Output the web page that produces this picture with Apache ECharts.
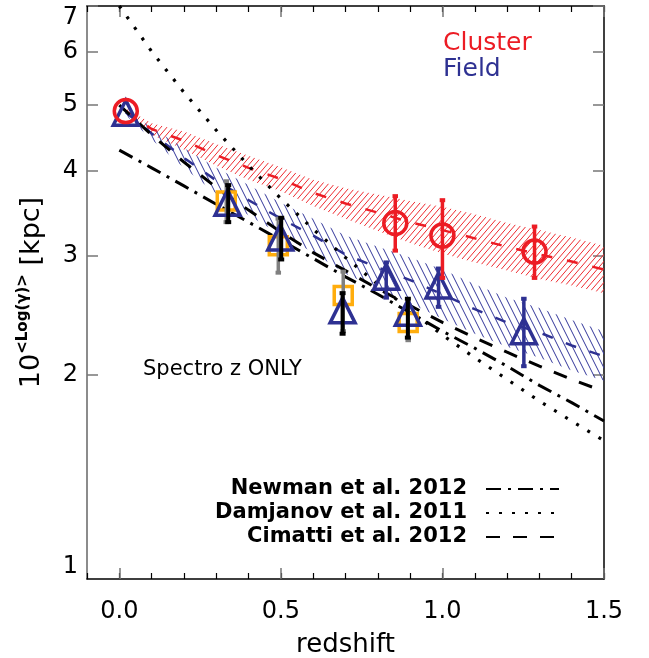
<!DOCTYPE html>
<html><head><meta charset="utf-8">
<script src="https://cdn.jsdelivr.net/npm/echarts@6/dist/echarts.min.js"></script>
<style>html,body{margin:0;padding:0;background:#fff}#c{width:649px;height:658px}</style>
</head><body><div id="c"></div>
<script>
// ---- tick labels ----
const xLabelValues = [0, 0.5, 1.0, 1.5];
const xMajorTicks = [0, 0.5, 1.0, 1.5];
const yLabelValues = [1, 2, 3, 4, 5, 6, 7];
const yMajorTicks = [2, 3, 4, 5, 6, 7];

// ---- literature relations ----
const modelZ = [0, 0.1, 0.2, 0.3, 0.4, 0.5, 0.6, 0.7, 0.8, 0.9, 1.0, 1.1, 1.2, 1.3, 1.4, 1.5];
const newmanR = [4.29, 4.04, 3.80, 3.57, 3.36, 3.16, 2.97, 2.79, 2.63, 2.47, 2.32, 2.19, 2.06, 1.93, 1.82, 1.71];
const damjanovR = [7.00, 6.00, 5.22, 4.59, 4.07, 3.64, 3.28, 2.98, 2.72, 2.49, 2.29, 2.12, 1.97, 1.83, 1.71, 1.60];
const cimattiR = [5.00, 4.52, 4.12, 3.78, 3.50, 3.25, 3.03, 2.85, 2.68, 2.53, 2.39, 2.27, 2.16, 2.06, 1.97, 1.89];

// ---- fitted bands ----
const bandZ = [0.02, 0.1, 0.2, 0.3, 0.4, 0.5, 0.6, 0.7, 0.8, 0.9, 1.0, 1.1, 1.2, 1.3, 1.4, 1.5];
const clusterMid = [4.90, 4.61, 4.43, 4.22, 4.04, 3.89, 3.71, 3.58, 3.47, 3.36, 3.27, 3.18, 3.09, 3.01, 2.94, 2.86];
const clusterUp  = [4.95, 4.70, 4.57, 4.38, 4.21, 4.05, 3.88, 3.77, 3.69, 3.61, 3.54, 3.45, 3.35, 3.27, 3.19, 3.10];
const clusterLow = [4.85, 4.52, 4.30, 4.07, 3.88, 3.73, 3.55, 3.40, 3.26, 3.13, 3.02, 2.93, 2.85, 2.77, 2.71, 2.64];
const fieldMid = [4.88, 4.54, 4.18, 3.87, 3.62, 3.40, 3.21, 3.01, 2.88, 2.76, 2.63, 2.50, 2.39, 2.31, 2.21, 2.13];
const fieldUp  = [4.93, 4.63, 4.32, 4.04, 3.81, 3.59, 3.40, 3.21, 3.09, 2.98, 2.86, 2.72, 2.60, 2.51, 2.41, 2.32];
const fieldLow = [4.83, 4.45, 4.04, 3.70, 3.44, 3.22, 3.03, 2.82, 2.68, 2.55, 2.42, 2.30, 2.20, 2.12, 2.03, 1.96];

// ---- data points ----
const clusterZ = [0.02, 0.854, 1.00, 1.285];
const clusterR = [4.90, 3.35, 3.21, 3.04];
const clusterErrZ = [0.854, 1.00, 1.285];
const clusterErrLo = [3.05, 2.78, 2.78];
const clusterErrHi = [3.67, 3.62, 3.31];

const fieldZ = [0.02, 0.335, 0.498, 0.691, 0.826, 0.893, 0.988, 1.252];
const fieldR = [4.87, 3.59, 3.19, 2.49, 2.79, 2.47, 2.71, 2.32];
const fieldErrZ = [0.826, 0.988, 1.252];
const fieldErrLo = [2.60, 2.52, 2.06];
const fieldErrHi = [2.93, 2.87, 2.59];

const specErrZ = [0.337, 0.501, 0.691, 0.893];
const specErrLo = [3.36, 2.96, 2.30, 2.27];
const specErrHi = [3.81, 3.41, 2.64, 2.59];

const squareZ = [0.331, 0.492, 0.693, 0.894];
const squareR = [3.61, 3.10, 2.62, 2.39];
const squareErrLo = [3.36, 2.83, 2.32, 2.25];
const squareErrHi = [3.86, 3.40, 2.84, 2.55];

const RED = '#EC1C24', BLUE = '#2E3192', ORANGE = '#FFAD0D', GRAY = '#808080';
const FONT = 'DejaVu Sans';

function hatch(color, w, h, dir, lw) {
  const c = document.createElement('canvas');
  c.width = w; c.height = h;
  const g = c.getContext('2d');
  g.strokeStyle = color; g.lineWidth = lw;
  g.beginPath();
  for (let k = -1; k <= 1; k++) {
    if (dir > 0) { g.moveTo(k * w, h); g.lineTo(k * w + w, 0); }
    else { g.moveTo(k * w, 0); g.lineTo(k * w + w, h); }
  }
  g.stroke();
  return c;
}
const redHatch = hatch('#EE2A30', 6, 7, 1, 1);
const blueHatch = hatch('#33379A', 7, 14, -1, 1);

function bandSeries(name, lo, hi, pattern) {
  return {
    name: name, type: 'custom', z: 1, silent: true, clip: true,
    data: bandZ.map((z, i) => [z, lo[i], hi[i]]),
    encode: { x: 0, y: [1, 2] },
    renderItem: function (params, api) {
      if (params.dataIndex !== 0) return null;
      const pts = [];
      for (let i = 0; i < bandZ.length; i++) pts.push(api.coord([bandZ[i], hi[i]]));
      for (let i = bandZ.length - 1; i >= 0; i--) pts.push(api.coord([bandZ[i], lo[i]]));
      return { type: 'polygon', shape: { points: pts }, style: { fill: { image: pattern, repeat: 'repeat' }, stroke: null } };
    }
  };
}

function errSeries(name, zs, lo, hi, color, w, z) {
  return {
    name: name, type: 'custom', z: z, silent: true,
    data: zs.map((v, i) => [v, lo[i], hi[i]]),
    encode: { x: 0, y: [1, 2] },
    renderItem: function (params, api) {
      const p1 = api.coord([api.value(0), api.value(1)]);
      const p2 = api.coord([api.value(0), api.value(2)]);
      return { type: 'group', children: [
        { type: 'line', shape: { x1: p1[0], y1: p1[1], x2: p2[0], y2: p2[1] }, style: { stroke: color, lineWidth: w } },
        { type: 'rect', shape: { x: p1[0] - w / 2 - 1, y: p1[1] - 2, width: w + 2, height: 4 }, style: { fill: color } },
        { type: 'rect', shape: { x: p2[0] - w / 2 - 1, y: p2[1] - 2, width: w + 2, height: 4 }, style: { fill: color } }
      ] };
    }
  };
}

const chart = echarts.init(document.getElementById('c'), null, { renderer: 'canvas' });

const xBase = { type: 'value', min: -0.1, max: 1.5, splitLine: { show: false } };
const yBase = { type: 'log', logBase: 10, min: 1, max: 7, splitLine: { show: false } };

chart.setOption({
  animation: false,
  backgroundColor: '#fff',
  grid: { left: 87, right: 45, top: 6, bottom: 79, containLabel: false, outerBoundsMode: 'none' },
  xAxis: [
    Object.assign({}, xBase, {
      position: 'bottom', interval: 0.1,
      axisLine: { onZero: false, lineStyle: { color: '#000', width: 1.5 } },
      axisTick: { inside: true, length: 6, lineStyle: { color: '#000', width: 1.2 } },
      axisLabel: { customValues: xLabelValues, formatter: v => Number(v).toFixed(1), fontFamily: FONT, fontSize: 24, color: '#000', margin: 21 },
      name: 'redshift', nameLocation: 'middle', nameGap: 53,
      nameTextStyle: { fontFamily: FONT, fontSize: 26, color: '#000' }
    }),
    Object.assign({}, xBase, {
      position: 'bottom',
      axisLine: { show: false, onZero: false },
      axisTick: { customValues: xMajorTicks, inside: true, length: 11, lineStyle: { color: '#777', width: 1.5 } },
      axisLabel: { show: false }
    }),
    Object.assign({}, xBase, {
      position: 'top', interval: 0.1,
      axisLine: { onZero: false, lineStyle: { color: '#000', width: 1.5 } },
      axisTick: { inside: true, length: 6, lineStyle: { color: '#000', width: 1.2 } },
      axisLabel: { show: false }
    }),
    Object.assign({}, xBase, {
      position: 'top',
      axisLine: { show: false, onZero: false },
      axisTick: { customValues: xMajorTicks, inside: true, length: 11, lineStyle: { color: '#777', width: 1.5 } },
      axisLabel: { show: false }
    })
  ],
  yAxis: [
    Object.assign({}, yBase, {
      position: 'left',
      axisLine: { onZero: false, lineStyle: { color: '#666', width: 1.5 } },
      axisTick: { customValues: yMajorTicks, inside: true, length: 11, lineStyle: { color: '#777', width: 1.5 } },
      axisLabel: { customValues: yLabelValues, formatter: v => String(Math.round(v)), fontFamily: FONT, fontSize: 24, color: '#000', margin: 9,
                   verticalAlignMinLabel: 'bottom', verticalAlignMaxLabel: 'top' },
      name: '{a|10}{b|<Log(γ)>}{a| [kpc]}', nameLocation: 'middle', nameGap: 39,
      nameTextStyle: { rich: {
        a: { fontFamily: FONT, fontSize: 27, lineHeight: 32, color: '#000' },
        b: { fontFamily: FONT, fontWeight: 'bold', fontSize: 15, lineHeight: 17, verticalAlign: 'top', color: '#000' }
      } }
    }),
    Object.assign({}, yBase, {
      position: 'right',
      axisLine: { onZero: false, lineStyle: { color: '#000', width: 1.5 } },
      axisTick: { customValues: yMajorTicks, inside: true, length: 11, lineStyle: { color: '#777', width: 1.5 } },
      axisLabel: { show: false }
    })
  ],
  legend: {
    data: ['Newman et al. 2012', 'Damjanov et al. 2011', 'Cimatti et al. 2012'],
    orient: 'vertical', align: 'right', right: 84, top: 472,
    itemWidth: 73, itemHeight: 12, itemGap: 0, selectedMode: false,
    itemStyle: { opacity: 0 },
    textStyle: { fontFamily: FONT, fontWeight: 'bold', fontSize: 21, color: '#000', lineHeight: 24, padding: [0, 14, 0, 0] }
  },
  graphic: [
    { type: 'text', x: 443, y: 43, style: { text: 'Cluster', fill: RED, font: '25px "DejaVu Sans"', textVerticalAlign: 'middle' } },
    { type: 'text', x: 443, y: 69, style: { text: 'Field', fill: BLUE, font: '25px "DejaVu Sans"', textVerticalAlign: 'middle' } },
    { type: 'text', x: 143, y: 370, style: { text: 'Spectro z ONLY', fill: '#000', font: '21px "DejaVu Sans"', textVerticalAlign: 'middle' } }
  ],
  series: [
    bandSeries('clusterBand', clusterLow, clusterUp, redHatch),
    bandSeries('fieldBand', fieldLow, fieldUp, blueHatch),
    { name: 'clusterFit', type: 'line', z: 2, silent: true, symbol: 'none', data: bandZ.map((z, i) => [z, clusterMid[i]]),
      lineStyle: { color: RED, width: 2.5, type: [11, 15] } },
    { name: 'fieldFit', type: 'line', z: 2, silent: true, symbol: 'none', data: bandZ.map((z, i) => [z, fieldMid[i]]),
      lineStyle: { color: BLUE, width: 2.5, type: [11, 14] } },
    { name: 'Newman et al. 2012', type: 'line', z: 3, silent: true, symbol: 'none', data: modelZ.map((z, i) => [z, newmanR[i]]),
      itemStyle: { color: '#000' },
      lineStyle: { color: '#000', width: 3, type: [15, 7, 3, 7] } },
    { name: 'Damjanov et al. 2011', type: 'line', z: 3, silent: true, symbol: 'none', data: modelZ.map((z, i) => [z, damjanovR[i]]),
      itemStyle: { color: '#000' },
      lineStyle: { color: '#000', width: 3.2, type: [3, 10] } },
    { name: 'Cimatti et al. 2012', type: 'line', z: 3, silent: true, symbol: 'none', data: modelZ.map((z, i) => [z, cimattiR[i]]),
      itemStyle: { color: '#000' },
      lineStyle: { color: '#000', width: 3, type: [14, 13] } },
    { name: 'squares', type: 'scatter', z: 4, silent: true, symbol: 'rect', symbolSize: 18,
      data: squareZ.map((z, i) => [z, squareR[i]]),
      itemStyle: { color: 'rgba(0,0,0,0)', borderColor: ORANGE, borderWidth: 3.5, opacity: 1 } },
    errSeries('squareErr', squareZ, squareErrLo, squareErrHi, GRAY, 3.5, 5),
    { name: 'field', type: 'scatter', z: 6, silent: true, symbol: 'triangle', symbolSize: [25, 25],
      data: fieldZ.map((z, i) => [z, fieldR[i]]),
      itemStyle: { color: 'rgba(0,0,0,0)', borderColor: BLUE, borderWidth: 3.5, opacity: 1 } },
    errSeries('specErr', specErrZ, specErrLo, specErrHi, '#000', 4, 7),
    errSeries('fieldErr', fieldErrZ, fieldErrLo, fieldErrHi, BLUE, 3.5, 7),
    { name: 'cluster', type: 'scatter', z: 8, silent: true, symbol: 'circle', symbolSize: 23,
      data: clusterZ.map((z, i) => [z, clusterR[i]]),
      itemStyle: { color: 'rgba(0,0,0,0)', borderColor: RED, borderWidth: 3.5, opacity: 1 } },
    errSeries('clusterErr', clusterErrZ, clusterErrLo, clusterErrHi, RED, 3.5, 8)
  ]
});
</script>
</body></html>
